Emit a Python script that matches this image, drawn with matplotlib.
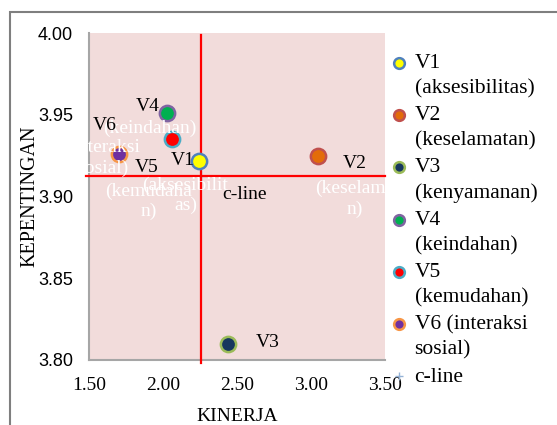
import matplotlib as mpl
mpl.use('Agg')
import matplotlib.pyplot as plt
from matplotlib.patches import Rectangle

# data
names = ['V1', 'V2', 'V3', 'V4', 'V5', 'V6']
legend_names = ['V1\n(aksesibilitas)', 'V2\n(keselamatan)', 'V3\n(kenyamanan)',
                'V4\n(keindahan)', 'V5\n(kemudahan)', 'V6 (interaksi\nsosial)']
wrapped_desc = ['(aksesibilit\nas)', '(keselama\nn)', '(kenyamana\nn)',
                '(keindahan)', '(kemudaha\nn)', '(interaksi\nsosial)']
kinerja = [2.24, 3.05, 2.44, 2.03, 2.06, 1.70]
kepentingan = [3.922, 3.925, 3.810, 3.951, 3.935, 3.926]

cline_x = 2.26
cline_y = 3.9125
cline_xspan = [1.48, 3.50]
cline_yspan = [3.798, 3.999]

face = ['#FFFF00', '#E36C09', '#17375E', '#00B050', '#FF0000', '#7030A0']
edge = ['#4F81BD', '#C0504D', '#9BBB59', '#8064A2', '#4BACC6', '#F79646']
# label offsets in pixels (dx right, dy down)
name_off = [(-16, 0), (36, 8), (40, -1), (-20, -7), (-25, 28), (-14, -28)]
desc_off = [(-13, 35), (36, 43), (45, 37), (-18, 15), (-23, 62), (-16, 4)]

plt.rcParams['font.family'] = 'Liberation Serif'

fig = plt.figure(figsize=(5.57, 4.25), dpi=100)
ax = fig.add_axes([89 / 557, 1 - 360 / 425, 296 / 557, 327 / 425])
ax.set_facecolor('#F2DCDB')

# outer chart border
fig.patches.append(Rectangle((10 / 557, -0.2), 1.2, (425 - 12) / 425 + 0.2,
                             transform=fig.transFigure, fill=False,
                             edgecolor='#7F7F7F', linewidth=1.5))

handles = []
for i in range(len(names)):
    h, = ax.plot(kinerja[i], kepentingan[i], 'o', ms=11, mfc=face[i], mec=edge[i],
                 mew=1.8, zorder=4, label=legend_names[i], clip_on=False)
    handles.append(h)

# c-line (cut-off lines through the mean values)
ax.plot(cline_xspan, [cline_y, cline_y], color='#FF0000', lw=1.6, zorder=3, clip_on=False)
ax.plot([cline_x, cline_x], cline_yspan, color='#FF0000', lw=1.6, zorder=3, clip_on=False)
hc, = ax.plot(cline_x, cline_y, '+', color='#95B3D7', ms=8, mew=1, zorder=2, label='c-line')
handles.append(hc)

for i in range(len(names)):
    ax.annotate(wrapped_desc[i], (kinerja[i], kepentingan[i]),
                xytext=(desc_off[i][0] * 0.72, -desc_off[i][1] * 0.72),
                textcoords='offset points', ha='center', va='center',
                color='white', fontsize=14, linespacing=1.25, zorder=5)
    ax.annotate(names[i], (kinerja[i], kepentingan[i]),
                xytext=(name_off[i][0] * 0.72, -name_off[i][1] * 0.72),
                textcoords='offset points', ha='center', va='center',
                color='black', fontsize=14, zorder=6)
ax.annotate('c-line', (cline_x, cline_y), xytext=(-19 * 0.72 + 45, -18 * 0.72),
            textcoords='offset points', ha='center', va='center', fontsize=14)

ax.set_xlim(1.5, 3.5)
ax.set_ylim(3.80, 4.00)
ax.set_xticks([1.5, 2.0, 2.5, 3.0, 3.5])
ax.set_yticks([3.80, 3.85, 3.90, 3.95, 4.00])
ax.set_xticklabels(['%.2f' % v for v in ax.get_xticks()], fontsize=14)
ax.set_yticklabels(['%.2f' % v for v in ax.get_yticks()], fontsize=13,
                   family='Liberation Sans')
ax.tick_params(length=0, pad=12)
ax.tick_params(axis='y', pad=11.5)
for s in ['top', 'right']:
    ax.spines[s].set_visible(False)
for s in ['left', 'bottom']:
    ax.spines[s].set_color('#A6A6A6')
    ax.spines[s].set_linewidth(1.5)

ax.set_xlabel('KINERJA', fontsize=14, labelpad=10)
ax.set_ylabel('KEPENTINGAN', fontsize=14.5, labelpad=-1)

leg = ax.legend(handles=handles, loc='upper left', bbox_to_anchor=(1.03, 0.935),
                frameon=False, fontsize=15.5, handlelength=0.48, handletextpad=0.48,
                handleheight=1.1, labelspacing=0.37, borderaxespad=0, borderpad=0,
                markerscale=0.7)
for t in leg.get_texts():
    t.set_linespacing(1.41)
for vp in leg._legend_handle_box.get_children():
    for hp in vp.get_children():
        hp.align = 'top'

fig.savefig('out.png', dpi=100)
